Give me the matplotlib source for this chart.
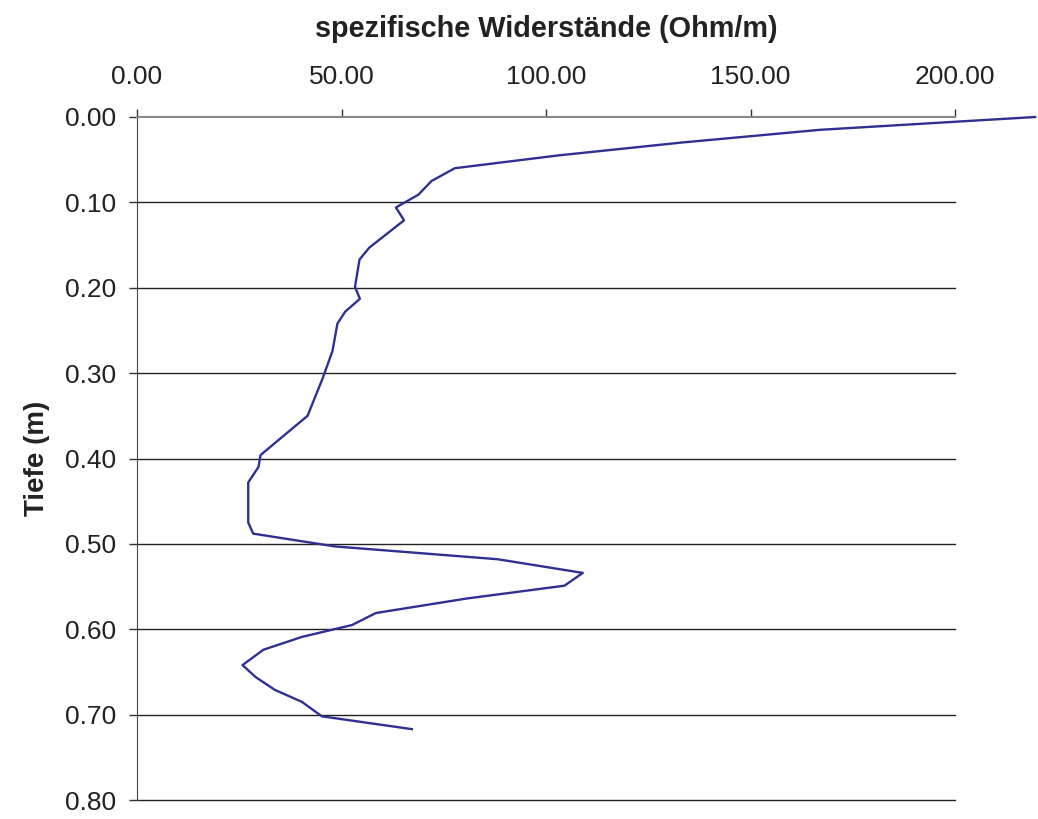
import matplotlib.pyplot as plt

plt.rcParams["font.family"] = ["Liberation Sans", "DejaVu Sans"]

# depth profile: resistivity (Ohm/m) vs depth (m)
tiefe = [0.0, 0.015, 0.030, 0.045, 0.060, 0.075, 0.091, 0.106, 0.121, 0.153,
         0.167, 0.199, 0.213, 0.228, 0.242, 0.274, 0.306, 0.350, 0.396, 0.410,
         0.428, 0.442, 0.456, 0.475, 0.488, 0.503, 0.518, 0.534, 0.549, 0.564,
         0.581, 0.595, 0.609, 0.624, 0.642, 0.656, 0.671, 0.685, 0.702, 0.717]
widerstand = [219.6, 167.0, 133.0, 103.0, 77.7, 72.0, 68.8, 63.3, 65.3, 56.8,
              54.4, 53.3, 54.5, 50.9, 49.0, 47.8, 45.4, 41.7, 30.2, 29.7,
              27.2, 27.2, 27.2, 27.2, 28.4, 48.4, 88.2, 109.0, 104.5, 80.6,
              58.4, 52.6, 40.3, 30.9, 25.8, 29.0, 33.7, 40.3, 45.2, 67.2]

x_ticks = [0, 50, 100, 150, 200]
y_ticks = [0.0, 0.1, 0.2, 0.3, 0.4, 0.5, 0.6, 0.7, 0.8]

fig = plt.figure(figsize=(10.38, 8.19), dpi=100)
ax = fig.add_axes([137 / 1038, 1 - 800 / 819, (955 - 137) / 1038, (800 - 117) / 819])

ax.plot(widerstand, tiefe, color="#2e3192", linewidth=1.7, clip_on=False, zorder=3)

ax.set_xlim(0, 200)
ax.set_ylim(0.8, 0.0)
ax.xaxis.tick_top()
ax.xaxis.set_label_position("top")
ax.set_xticks(x_ticks)
ax.set_xticklabels([f"{v:.2f}" for v in x_ticks])
ax.set_yticks(y_ticks)
ax.set_yticklabels([f"{v:.2f}" for v in y_ticks])

ax.tick_params(axis="x", length=6, width=1, color="#333333", pad=14,
               labelsize=19, labelcolor="#222222")
ax.tick_params(axis="y", length=6, width=1, color="#333333", pad=9,
               labelsize=19, labelcolor="#222222")

for yv in y_ticks[1:]:
    ax.axhline(yv, color="#222222", linewidth=1, zorder=1, clip_on=False)

for s in ["right", "bottom"]:
    ax.spines[s].set_visible(False)
ax.spines["top"].set_color("#888888")
ax.spines["top"].set_linewidth(1.5)
ax.spines["left"].set_color("#444444")

ax.set_xlabel("spezifische Widerstände (Ohm/m)", fontsize=20.8, fontweight="bold",
              color="#222222", labelpad=20)
ax.set_ylabel("Tiefe (m)", fontsize=20, fontweight="bold", color="#222222", labelpad=11)

fig.savefig("out.png", dpi=100)
